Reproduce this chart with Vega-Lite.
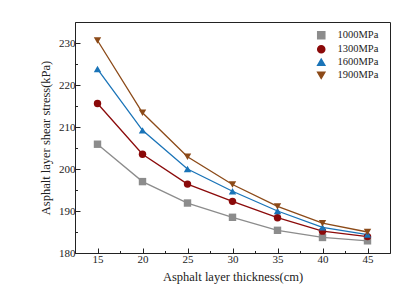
{
  "$schema": "https://vega.github.io/schema/vega-lite/v6.json",
  "width": 315,
  "height": 231,
  "autosize": "none",
  "padding": {"left": 75, "top": 22, "right": 25, "bottom": 46},
  "background": "white",
  "config": {
    "font": "Liberation Serif",
    "view": {"stroke": "#222", "strokeWidth": 1},
    "axis": {"grid": false, "domainColor": "#222", "tickColor": "#222", "labelColor": "#222", "titleColor": "#222", "labelFont": "Liberation Serif", "titleFont": "Liberation Serif", "titleFontWeight": "normal"},
    "legend": {"labelFont": "Liberation Serif", "labelFontSize": 10.5, "labelColor": "#222", "rowPadding": 0, "symbolSize": 50, "labelOffset": 11}
  },
  "data": {"values": [
    {"t": 15, "s": 205.9, "m": "1000MPa"},
    {"t": 20, "s": 197.0, "m": "1000MPa"},
    {"t": 25, "s": 191.9, "m": "1000MPa"},
    {"t": 30, "s": 188.5, "m": "1000MPa"},
    {"t": 35, "s": 185.4, "m": "1000MPa"},
    {"t": 40, "s": 183.7, "m": "1000MPa"},
    {"t": 45, "s": 182.9, "m": "1000MPa"},
    {"t": 15, "s": 215.6, "m": "1300MPa"},
    {"t": 20, "s": 203.5, "m": "1300MPa"},
    {"t": 25, "s": 196.4, "m": "1300MPa"},
    {"t": 30, "s": 192.3, "m": "1300MPa"},
    {"t": 35, "s": 188.4, "m": "1300MPa"},
    {"t": 40, "s": 185.2, "m": "1300MPa"},
    {"t": 45, "s": 183.9, "m": "1300MPa"},
    {"t": 15, "s": 223.8, "m": "1600MPa"},
    {"t": 20, "s": 209.2, "m": "1600MPa"},
    {"t": 25, "s": 200.0, "m": "1600MPa"},
    {"t": 30, "s": 194.7, "m": "1600MPa"},
    {"t": 35, "s": 190.0, "m": "1600MPa"},
    {"t": 40, "s": 186.1, "m": "1600MPa"},
    {"t": 45, "s": 184.4, "m": "1600MPa"},
    {"t": 15, "s": 230.6, "m": "1900MPa"},
    {"t": 20, "s": 213.4, "m": "1900MPa"},
    {"t": 25, "s": 202.9, "m": "1900MPa"},
    {"t": 30, "s": 196.3, "m": "1900MPa"},
    {"t": 35, "s": 191.1, "m": "1900MPa"},
    {"t": 40, "s": 187.1, "m": "1900MPa"},
    {"t": 45, "s": 185.0, "m": "1900MPa"}
  ]},
  "encoding": {
    "x": {"field": "t", "type": "quantitative",
      "scale": {"domain": [12.5, 47.5], "nice": false, "zero": false},
      "axis": {"title": "Asphalt layer thickness(cm)", "values": [15, 17.5, 20, 22.5, 25, 27.5, 30, 32.5, 35, 37.5, 40, 42.5, 45],
        "labelExpr": "datum.value % 5 === 0 ? datum.label : ''",
        "tickSize": {"condition": {"test": "datum.value % 5 !== 0", "value": -2.5}, "value": -5},
        "labelPadding": 5, "labelFontSize": 11, "titleFontSize": 12.5, "titlePadding": 6, "labelFlush": false}},
    "y": {"field": "s", "type": "quantitative",
      "scale": {"domain": [180, 235], "nice": false, "zero": false},
      "axis": {"title": "Asphalt layer shear stress(kPa)", "values": [180, 185, 190, 195, 200, 205, 210, 215, 220, 225, 230],
        "labelExpr": "datum.value % 10 === 0 ? datum.label : ''",
        "tickSize": {"condition": {"test": "datum.value % 10 !== 0", "value": -2.5}, "value": -5},
        "labelPadding": 5, "labelFontSize": 11, "titleFontSize": 12.5, "titlePadding": 6, "labelFlush": false}},
    "color": {"field": "m", "type": "nominal",
      "scale": {"domain": ["1000MPa", "1300MPa", "1600MPa", "1900MPa"], "range": ["#8c8c8c", "#8b0a0a", "#1a74b8", "#8c4a18"]},
      "legend": {"title": null, "orient": "none", "legendX": 241, "legendY": 8}}
  },
  "layer": [
    {"mark": {"type": "line", "strokeWidth": 1.3}},
    {"mark": {"type": "point", "filled": true, "opacity": 1, "size": 55},
      "encoding": {
        "shape": {"field": "m", "type": "nominal",
          "scale": {"domain": ["1000MPa", "1300MPa", "1600MPa", "1900MPa"], "range": ["square", "circle", "triangle-up", "triangle-down"]},
          "legend": {"title": null, "orient": "none", "legendX": 241, "legendY": 8}}
      }}
  ]
}
